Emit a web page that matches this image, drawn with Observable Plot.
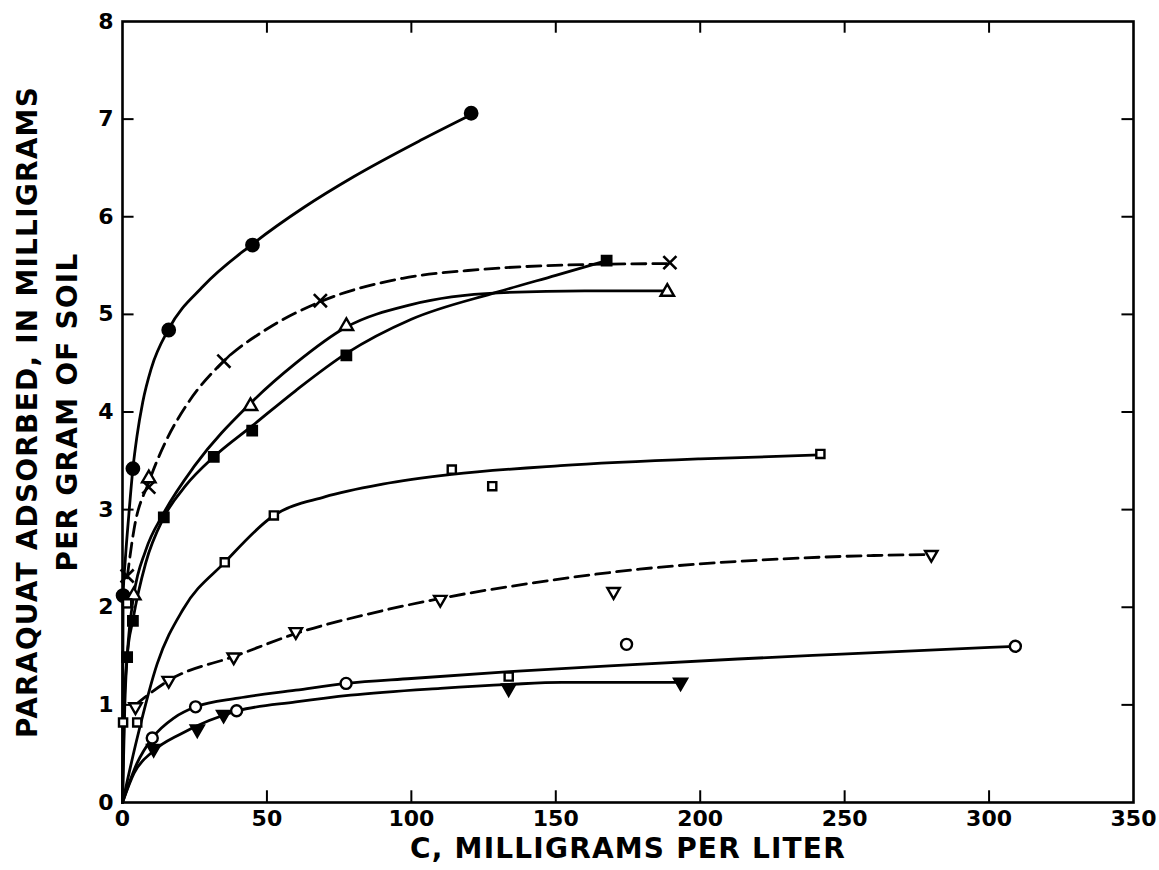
<!DOCTYPE html>
<html>
<head>
<meta charset="utf-8">
<script src="https://cdn.jsdelivr.net/npm/d3@7"></script>
<script src="https://cdn.jsdelivr.net/npm/@observablehq/plot@0.6"></script>
<style>
  html, body { margin: 0; padding: 0; background: white; overflow: hidden; }
  g[aria-label="text"] text { letter-spacing: 1.2px; }
</style>
</head>
<body>
<div id="chart"></div>
<script>
// ---- tick labels ----
const xTicks = [0, 50, 100, 150, 200, 250, 300, 350];
const yTicks = [0, 1, 2, 3, 4, 5, 6, 7, 8];
const xLabel = "C, MILLIGRAMS PER LITER";
const yLabel1 = "PARAQUAT ADSORBED, IN MILLIGRAMS";
const yLabel2 = "PER GRAM OF SOIL";

// ---- measured points [C, adsorbed] ----
const filledCircles = [[0.2, 2.12], [3.6, 3.42], [16, 4.84], [45, 5.71], [120.7, 7.06]];
const crosses = [[1.6, 2.32], [9.1, 3.23], [35.1, 4.52], [68.5, 5.14], [189.5, 5.53]];
const openTriangles = [[3.9, 2.12], [9.1, 3.32], [44.3, 4.06], [77.5, 4.88], [188.6, 5.23]];
const filledSquares = [[1.6, 1.49], [3.6, 1.86], [14.3, 2.92], [31.6, 3.54], [44.9, 3.81], [77.5, 4.58], [167.6, 5.55]];
const openSquares = [[0.2, 0.82], [5.1, 0.82], [1.6, 2.04], [35.4, 2.46], [52.4, 2.94], [114, 3.41], [128, 3.24], [133.7, 1.29], [241.6, 3.57]];
const openInvTriangles = [[4.5, 0.98], [16, 1.25], [38.5, 1.49], [60, 1.75], [110, 2.08], [170, 2.16], [280, 2.54]];
const openCircles = [[10.3, 0.66], [25.3, 0.98], [39.5, 0.94], [77.4, 1.22], [174.5, 1.62], [309.1, 1.6]];
const filledInvTriangles = [[10.8, 0.55], [25.9, 0.75], [35, 0.9], [133.7, 1.17], [193.2, 1.23]];

// ---- hand-drawn curves ----
const curveFilledCircles = [[0, 0], [0.1, 1.0], [0.2, 2.1], [1, 2.5], [2.2, 2.95], [3.6, 3.42], [5, 3.75], [7, 4.1], [10, 4.45], [16, 4.85], [28, 5.29], [45, 5.72], [63, 6.1], [80, 6.41], [103, 6.78], [121, 7.05]];
const curveCrosses = [[1.6, 2.3], [4, 2.8], [9.1, 3.28], [15, 3.7], [22.4, 4.08], [35, 4.52], [50, 4.85], [68.5, 5.13], [97, 5.37], [124, 5.46], [160, 5.51], [190, 5.52]];
const curveOpenTriangles = [[0, 0], [0.8, 1.0], [2, 1.65], [3.9, 2.12], [8, 2.58], [14, 2.95], [25, 3.45], [44, 4.08], [60, 4.5], [77.5, 4.87], [100, 5.1], [130, 5.22], [160, 5.24], [188.6, 5.24]];
const curveFilledSquares = [[0, 0], [0.6, 1.0], [1.6, 1.49], [3.6, 1.87], [8, 2.45], [14.3, 2.92], [22, 3.25], [31.6, 3.54], [45, 3.86], [60, 4.22], [77.5, 4.6], [100, 4.95], [130, 5.23], [150, 5.4], [167.6, 5.55]];
const curveOpenSquares = [[0, 0], [5, 0.65], [12, 1.42], [21, 1.98], [35.4, 2.46], [52.4, 2.94], [70, 3.13], [90, 3.26], [114, 3.36], [151.6, 3.45], [200, 3.52], [241.6, 3.56]];
const curveOpenInvTriangles = [[4.5, 1.0], [16, 1.25], [39, 1.5], [61, 1.74], [85, 1.93], [110, 2.09], [140, 2.24], [179, 2.39], [225, 2.49], [260, 2.53], [280, 2.54]];
const curveOpenCircles = [[0, 0], [5, 0.4], [10.3, 0.66], [18, 0.87], [25.3, 0.98], [40, 1.07], [60, 1.15], [77.4, 1.22], [100, 1.27], [134, 1.34], [175, 1.41], [213, 1.47], [249, 1.52], [309, 1.6]];
const curveFilledInvTriangles = [[0, 0], [4, 0.3], [10.8, 0.53], [20, 0.7], [30, 0.84], [40, 0.94], [60, 1.03], [79, 1.1], [110, 1.17], [134, 1.21], [152, 1.23], [193, 1.23]];

// inverted triangle symbol
const sqrt3 = Math.sqrt(3);
const triangleDown = {
  draw(context, size) {
    const y = -Math.sqrt(size / (sqrt3 * 3));
    context.moveTo(0, -y * 2);
    context.lineTo(-sqrt3 * y, y);
    context.lineTo(sqrt3 * y, y);
    context.closePath();
  }
};

const lineW = 2.8;
const solid = (data) => Plot.line(data, {x: d => d[0], y: d => d[1], curve: "monotone-x", stroke: "black", strokeWidth: lineW});
const dashed = (data) => Plot.line(data, {x: d => d[0], y: d => d[1], curve: "monotone-x", stroke: "black", strokeWidth: lineW, strokeDasharray: "14,7"});
const dots = (data, symbol, r, filled) => Plot.dot(data, {
  x: d => d[0], y: d => d[1], symbol, r,
  fill: filled ? "black" : "white", stroke: "black", strokeWidth: 2.4
});

const innerX = xTicks.slice(1, -1);
const innerY = yTicks.slice(1, -1);

const chart = Plot.plot({
  width: 1159,
  height: 870,
  marginLeft: 122,
  marginRight: 26,
  marginTop: 21,
  marginBottom: 68,
  style: {fontFamily: "DejaVu Sans", fontSize: "22px", fontWeight: "bold", color: "black", background: "white"},
  x: {domain: [0, 350], ticks: xTicks, label: null},
  y: {domain: [0, 8], ticks: yTicks, label: null},
  marks: [
    Plot.axisX({anchor: "bottom", ticks: xTicks, tickSize: 0, tickPadding: 8, label: null, fontSize: 22}),
    Plot.axisY({anchor: "left", ticks: yTicks, tickSize: 0, tickPadding: 9, label: null, fontSize: 22}),
    // inward ticks on all four sides
    Plot.ruleX(innerX, {x: d => d, y1: 0, y2: 0.12, strokeWidth: 2}),
    Plot.ruleX(innerX, {x: d => d, y1: 8, y2: 7.88, strokeWidth: 2}),
    Plot.ruleY(innerY, {y: d => d, x1: 0, x2: 4, strokeWidth: 2}),
    Plot.ruleY(innerY, {y: d => d, x1: 350, x2: 346, strokeWidth: 2}),
    Plot.frame({stroke: "black", strokeWidth: 2.6}),
    // curves
    solid(curveFilledCircles),
    dashed(curveCrosses),
    solid(curveOpenTriangles),
    solid(curveFilledSquares),
    solid(curveOpenSquares),
    dashed(curveOpenInvTriangles),
    solid(curveOpenCircles),
    solid(curveFilledInvTriangles),
    // points
    dots(filledCircles, "circle", 6.2, true),
    Plot.dot(crosses, {x: d => d[0], y: d => d[1], symbol: "times", r: 6, stroke: "black", strokeWidth: 2.6}),
    dots(openTriangles, "triangle", 5, false),
    dots(filledSquares, "square", 5.3, true),
    dots(openSquares, "square", 4.6, false),
    dots(openInvTriangles, triangleDown, 4.6, false),
    dots(openCircles, "circle", 5.5, false),
    dots(filledInvTriangles, triangleDown, 4.8, true),
    // axis titles
    Plot.text([xLabel], {frameAnchor: "bottom", text: d => d, dy: 47, fontSize: 28, fontWeight: "bold", textAnchor: "middle", lineAnchor: "middle"}),
    Plot.text([yLabel1], {frameAnchor: "left", text: d => d, dx: -94, rotate: -90, fontSize: 28, fontWeight: "bold", textAnchor: "middle", lineAnchor: "middle"}),
    Plot.text([yLabel2], {frameAnchor: "left", text: d => d, dx: -54, rotate: -90, fontSize: 28, fontWeight: "bold", textAnchor: "middle", lineAnchor: "middle"})
  ]
});
document.getElementById("chart").appendChild(chart);
</script>
</body>
</html>
